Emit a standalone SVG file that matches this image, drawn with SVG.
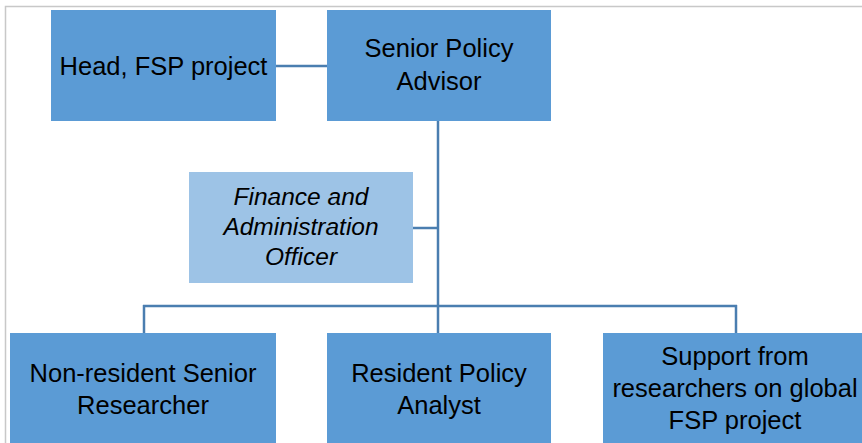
<svg xmlns="http://www.w3.org/2000/svg" width="862" height="443" viewBox="0 0 862 443">
<style>
.box{fill:#5B9BD5;}
.lbox{fill:#9DC3E6;}
.t{font-family:"Liberation Sans",Arial,sans-serif;font-size:25.5px;fill:#000;text-anchor:middle;}
.ti{font-style:italic;font-size:24.5px;}
.c{stroke:#4A7EB0;stroke-width:2.5;fill:none;}
</style>
<rect x="0" y="0" width="862" height="443" fill="#fff"/>
<path d="M5.5 443 V6.5 H862" stroke="#C8C8C8" stroke-width="1.5" fill="none"/>
<g id="connectors">
<line class="c" x1="276" y1="66" x2="327" y2="66"/>
<line class="c" x1="438" y1="121" x2="438" y2="333"/>
<line class="c" x1="413" y1="228" x2="438" y2="228"/>
<line class="c" x1="143" y1="306" x2="737" y2="306"/>
<line class="c" x1="144" y1="305" x2="144" y2="333"/>
<line class="c" x1="736" y1="305" x2="736" y2="333"/>
</g>
<g id="head">
<rect class="box" x="51" y="10" width="225" height="111"/>
<text class="t" x="163.5" y="75">Head, FSP project</text>
</g>
<g id="spa">
<rect class="box" x="327" y="10" width="224" height="111"/>
<text class="t" x="439" y="57">Senior Policy</text>
<text class="t" x="439" y="90">Advisor</text>
</g>
<g id="fao">
<rect class="lbox" x="189" y="172" width="224" height="111"/>
<text class="t ti" x="301" y="205">Finance and</text>
<text class="t ti" x="301" y="235">Administration</text>
<text class="t ti" x="301" y="265">Officer</text>
</g>
<g id="nrsr">
<rect class="box" x="10" y="333" width="266" height="110"/>
<text class="t" x="143" y="382">Non-resident Senior</text>
<text class="t" x="143" y="414">Researcher</text>
</g>
<g id="rpa">
<rect class="box" x="327" y="333" width="224" height="110"/>
<text class="t" x="439" y="382">Resident Policy</text>
<text class="t" x="439" y="414">Analyst</text>
</g>
<g id="support">
<rect class="box" x="603" y="333" width="270" height="110"/>
<text class="t" x="735" y="365">Support from</text>
<text class="t" x="735" y="397">researchers on global</text>
<text class="t" x="735" y="429">FSP project</text>
</g>
</svg>
